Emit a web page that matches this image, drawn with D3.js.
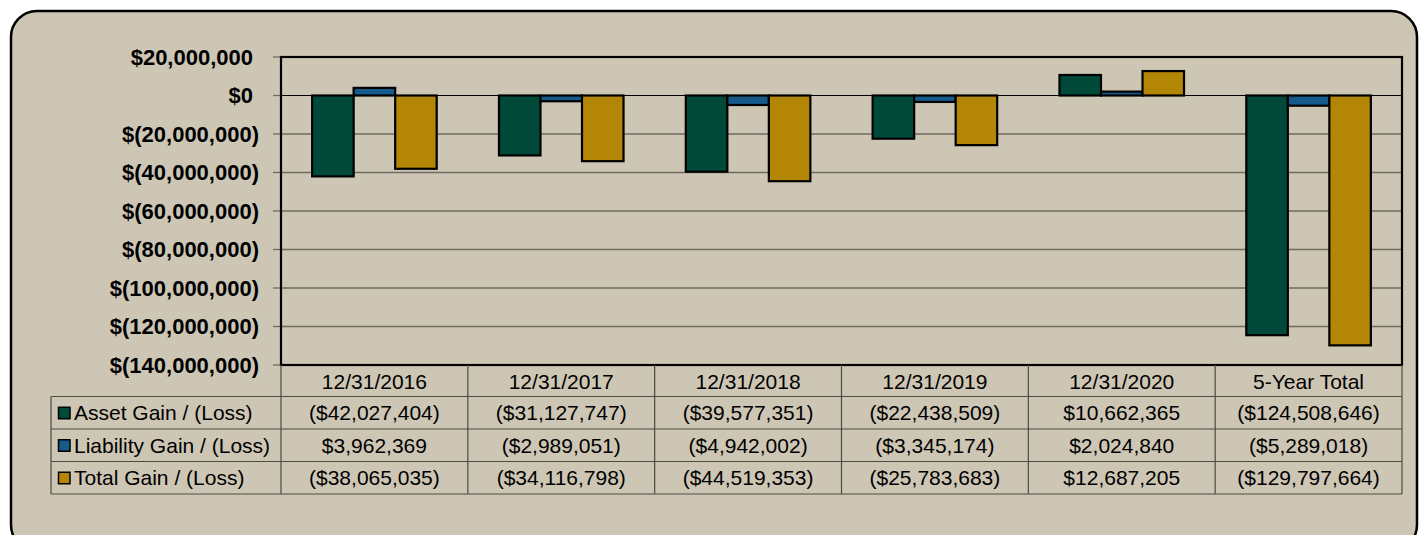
<!DOCTYPE html>
<html>
<head>
<meta charset="utf-8">
<script src="https://cdn.jsdelivr.net/npm/d3@7"></script>
<style>
  body { margin: 0; background: #ffffff; }
  svg { display: block; font-family: "Liberation Sans", Arial, sans-serif; }
</style>
</head>
<body>
<svg id="chart" width="1419" height="535"></svg>
<script>
const categories = ["12/31/2016", "12/31/2017", "12/31/2018", "12/31/2019", "12/31/2020", "5-Year Total"];
const seriesNames = ["Asset Gain / (Loss)", "Liability Gain / (Loss)", "Total Gain / (Loss)"];
const assetValues = [-42027404, -31127747, -39577351, -22438509, 10662365, -124508646];
const liabilityValues = [3962369, -2989051, -4942002, -3345174, 2024840, -5289018];
const totalValues = [-38065035, -34116798, -44519353, -25783683, 12687205, -129797664];
const seriesColors = ["#014a3a", "#155a8a", "#b38606"];
const yTicks = [20000000, 0, -20000000, -40000000, -60000000, -80000000, -100000000, -120000000, -140000000];

const series = [assetValues, liabilityValues, totalValues];

const svg = d3.select("#chart");

// panel background
svg.append("rect")
  .attr("x", 11).attr("y", 11)
  .attr("width", 1406).attr("height", 540)
  .attr("rx", 26).attr("ry", 26)
  .attr("fill", "#cec6b4")
  .attr("stroke", "#000").attr("stroke-width", 2.5);

const plotLeft = 281, plotRight = 1402, plotTop = 57, plotBottom = 365;

const x = d3.scaleBand()
  .domain(categories)
  .range([plotLeft, plotRight])
  .paddingInner(0)
  .paddingOuter(0);

const y = d3.scaleLinear()
  .domain([-140000000, 20000000])
  .range([plotBottom, plotTop]);

// gridlines
svg.append("g")
  .selectAll("line")
  .data(yTicks.filter(d => d !== 0 && d !== 20000000 && d !== -140000000))
  .join("line")
  .attr("x1", plotLeft).attr("x2", plotRight)
  .attr("y1", d => y(d)).attr("y2", d => y(d))
  .attr("stroke", "#6f6b63").attr("stroke-width", 1.3);

// tick marks
svg.append("g")
  .selectAll("line")
  .data(yTicks)
  .join("line")
  .attr("x1", plotLeft - 8).attr("x2", plotLeft)
  .attr("y1", d => y(d)).attr("y2", d => y(d))
  .attr("stroke", "#6f6b63").attr("stroke-width", 1.3);

// y labels
const fmtAxis = d3.format(",");
svg.append("g")
  .selectAll("text")
  .data(yTicks)
  .join("text")
  .attr("x", d => d < 0 ? 259 : 253)
  .attr("y", d => y(d))
  .attr("dy", "0.36em")
  .attr("text-anchor", "end")
  .attr("font-size", 22)
  .attr("font-weight", "bold")
  .attr("fill", "#000")
  .text(d => d < 0 ? "$(" + fmtAxis(-d) + ")" : "$" + fmtAxis(d));

// bars
const barW = x.bandwidth() / 4.5;
const groups = svg.append("g");
series.forEach((vals, si) => {
  groups.append("g")
    .selectAll("rect")
    .data(vals)
    .join("rect")
    .attr("x", (d, i) => x(categories[i]) + x.bandwidth() / 2 - 1.5 * barW + si * barW)
    .attr("y", d => y(Math.max(0, d)))
    .attr("width", barW)
    .attr("height", d => Math.abs(y(d) - y(0)))
    .attr("fill", seriesColors[si])
    .attr("stroke", "#000")
    .attr("stroke-width", 2.2);
});

// zero line
svg.append("line")
  .attr("x1", plotLeft).attr("x2", plotRight)
  .attr("y1", y(0)).attr("y2", y(0))
  .attr("stroke", "#000").attr("stroke-width", 1.2);

// plot frame
svg.append("rect")
  .attr("x", plotLeft).attr("y", plotTop)
  .attr("width", plotRight - plotLeft).attr("height", plotBottom - plotTop)
  .attr("fill", "none")
  .attr("stroke", "#000").attr("stroke-width", 2.2);

// data table
const tableLeft = 51;
const headerBottom = 396.5;
const rowH = 32.5;
const rowTops = seriesNames.map((d, i) => headerBottom + i * rowH);
const tableBottom = headerBottom + seriesNames.length * rowH;
const lineColor = "#4d4a44";
const tableFont = 21;

const table = svg.append("g");

// horizontal lines
table.selectAll("line.h")
  .data(rowTops.concat([tableBottom]))
  .join("line")
  .attr("class", "h")
  .attr("x1", tableLeft).attr("x2", plotRight)
  .attr("y1", d => d).attr("y2", d => d)
  .attr("stroke", lineColor).attr("stroke-width", 1.2);

// vertical lines
const vx = categories.map(c => x(c)).concat([plotRight]);
table.selectAll("line.v")
  .data(vx)
  .join("line")
  .attr("class", "v")
  .attr("x1", d => d).attr("x2", d => d)
  .attr("y1", plotBottom).attr("y2", tableBottom)
  .attr("stroke", lineColor).attr("stroke-width", 1.2);

table.append("line")
  .attr("x1", tableLeft).attr("x2", tableLeft)
  .attr("y1", headerBottom).attr("y2", tableBottom)
  .attr("stroke", lineColor).attr("stroke-width", 1.2);

// category headers
table.selectAll("text.cat")
  .data(categories)
  .join("text")
  .attr("class", "cat")
  .attr("x", d => x(d) + x.bandwidth() / 2)
  .attr("y", (plotBottom + headerBottom) / 2 + 1)
  .attr("dy", "0.36em")
  .attr("text-anchor", "middle")
  .attr("font-size", tableFont)
  .attr("fill", "#000")
  .text(d => d);

// legend swatches + row names
table.selectAll("rect.key")
  .data(seriesNames)
  .join("rect")
  .attr("class", "key")
  .attr("x", 58.5)
  .attr("y", (d, i) => rowTops[i] + rowH / 2 - 5.5)
  .attr("width", 11.5).attr("height", 11.5)
  .attr("fill", (d, i) => seriesColors[i])
  .attr("stroke", "#000").attr("stroke-width", 1.5);

table.selectAll("text.name")
  .data(seriesNames)
  .join("text")
  .attr("class", "name")
  .attr("x", 74)
  .attr("y", (d, i) => rowTops[i] + rowH / 2)
  .attr("dy", "0.36em")
  .attr("font-size", tableFont)
  .attr("fill", "#000")
  .text(d => d);

// values
const fmtVal = d => d < 0 ? "($" + fmtAxis(-d) + ")" : "$" + fmtAxis(d);
series.forEach((vals, si) => {
  table.append("g")
    .selectAll("text")
    .data(vals)
    .join("text")
    .attr("x", (d, i) => x(categories[i]) + x.bandwidth() / 2)
    .attr("y", rowTops[si] + rowH / 2)
    .attr("dy", "0.36em")
    .attr("text-anchor", "middle")
    .attr("font-size", tableFont)
    .attr("fill", "#000")
    .text(fmtVal);
});
</script>
</body>
</html>
